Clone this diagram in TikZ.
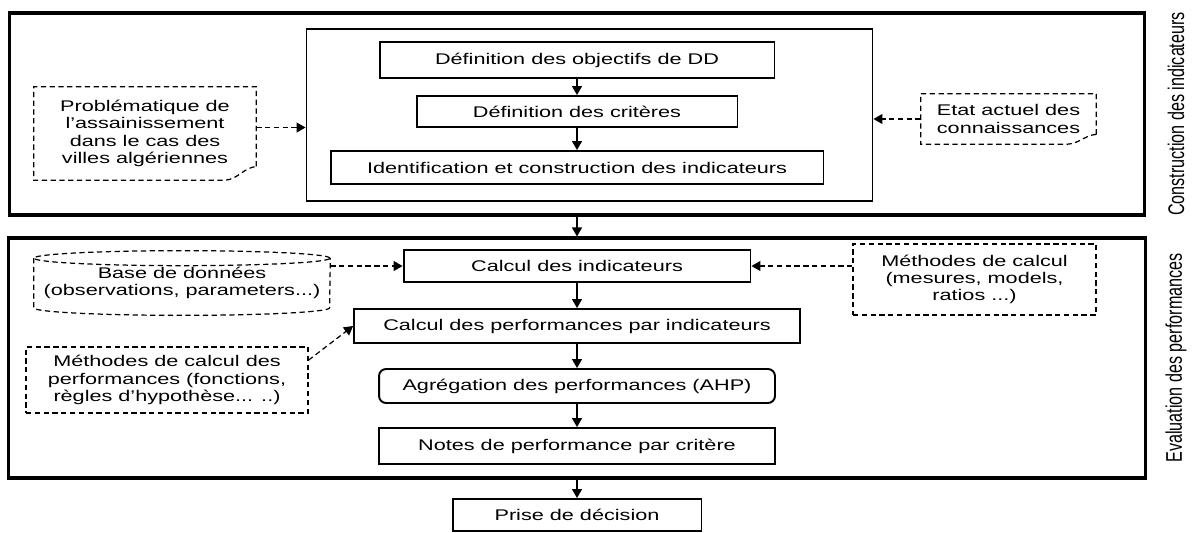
\documentclass[tikz,border=0pt]{standalone}
\usepackage{fontspec}
\setmainfont{Liberation Sans}[FakeStretch=1.4]
\newfontfamily\sidefont{Liberation Sans}
\usetikzlibrary{arrows.meta, calc}

\begin{document}
\begin{tikzpicture}[x=0.02cm, y=-0.02cm,
    every node/.style={font=\fontsize{8.8}{9.9}\selectfont, inner sep=0pt},
    bigbox/.style={draw, line width=1.8pt},
    stepbox/.style={draw, line width=1.1pt},
    noteline/.style={line width=0.7pt, dash pattern=on 3pt off 2pt},
    notebox/.style={draw, noteline, align=center},
    flow/.style={-{Triangle[length=1.8mm, width=2mm]}, line width=0.8pt},
    dflow/.style={flow, noteline},
    sidelabel/.style={rotate=90, font=\sidefont\fontsize{9.2}{11}\selectfont}]
    \useasboundingbox (0,0) rectangle (1195,532);

    % 外框
    \node[bigbox, minimum width=22.72cm, minimum height=4.04cm] (constr) at (577,114) {};
    \node[bigbox, minimum width=22.76cm, minimum height=4.8cm] (evalu) at (577,358) {};
    \node[sidelabel] (constrlabel) at (1176,114) {\scalebox{1}[1.4]{Construction des indicateurs}};
    \node[sidelabel] (evalulabel) at (1176,358) {\scalebox{1}[1.4]{Evaluation des performances}};

    % 构建指标
    \node[draw, line width=0.6pt, minimum width=11.34cm, minimum height=3.44cm] (inner) at (589.5,115) {};
    \node[stepbox, minimum width=7.9cm, minimum height=0.72cm] (objectifs) at (577,60) {Définition des objectifs de DD};
    \node[stepbox, minimum width=6.42cm, minimum height=0.62cm] (criteres) at (577,111.5) {Définition des critères};
    \node[stepbox, minimum width=9.86cm, minimum height=0.66cm] (ident) at (577,167.5) {Identification et construction des indicateurs};

    \node[align=center, minimum width=4.44cm, minimum height=1.86cm] (probleme) at (145,133.5)
        {Problématique de\\l'assainissement\\dans le cas des\\villes algériennes};
    \node[align=left, minimum width=3.5cm, minimum height=1cm] (etat) at (1008.5,119)
        {Etat actuel des\\connaissances};
    \draw[noteline] ($(probleme.south east)+(0,-14)$) -- (probleme.north east) -- (probleme.north west)
        -- (probleme.south west) -- ($(probleme.south east)+(-32,0)$)
        .. controls ($(probleme.south east)+(-18,-1)$) and ($(probleme.south east)+(-14,-12)$) .. ($(probleme.south east)+(0,-14)$);
    \draw[noteline] ($(etat.south east)+(0,-10)$) -- (etat.north east) -- (etat.north west)
        -- (etat.south west) -- ($(etat.south east)+(-30,0)$)
        .. controls ($(etat.south east)+(-16,-1)$) and ($(etat.south east)+(-12,-9)$) .. ($(etat.south east)+(0,-10)$);

    % 评价绩效
    \node[stepbox, minimum width=6.94cm, minimum height=0.64cm] (calcind) at (577,266) {Calcul des indicateurs};
    \node[stepbox, minimum width=8.92cm, minimum height=0.68cm] (calcperf) at (577,326) {Calcul des performances par indicateurs};
    \node[stepbox, rounded corners=4pt, minimum width=7.92cm, minimum height=0.68cm] (agreg) at (577,386) {Agrégation des performances (AHP)};
    \node[stepbox, minimum width=7.92cm, minimum height=0.72cm] (notes) at (577,446) {Notes de performance par critère};
    \node[stepbox, minimum width=4.98cm, minimum height=0.64cm] (prise) at (577,515) {Prise de décision};

    \node[align=center, minimum width=5.92cm, minimum height=1.28cm] (base) at (182,283)
        {Base de données\\(observations, parameters...)};
    \draw[noteline] ($(base.north)+(0,7.5)$) ellipse [x radius=2.96cm, y radius=0.15cm];
    \draw[noteline] ($(base.north west)+(0,7.5)$) -- ($(base.south west)+(0,-7.5)$)
        arc[start angle=180, end angle=360, x radius=2.96cm, y radius=0.15cm] -- ($(base.north east)+(0,7.5)$);
    \node[notebox, minimum width=5.64cm, minimum height=1.32cm] (methperf) at (167,380)
        {Méthodes de calcul des\\performances (fonctions,\\règles d'hypothèse... ..)};
    \node[notebox, minimum width=4.86cm, minimum height=1.42cm] (methcalc) at (974.5,279.5)
        {Méthodes de calcul\\(mesures, models,\\ratios ...)};

    % 箭头
    \draw[flow] (objectifs) -- (criteres);
    \draw[flow] (criteres) -- (ident);
    \draw[flow] (constr) -- (evalu);
    \draw[flow] (calcind) -- (calcperf);
    \draw[flow] (calcperf) -- (agreg);
    \draw[flow] (agreg) -- (notes);
    \draw[flow] (evalu) -- (prise);

    \draw[dflow] ([yshift=0.12cm]probleme.east) -- ([yshift=0.12cm]probleme.east -| inner.west);
    \draw[dflow] (etat.west) -- (etat.west -| inner.east);
    \draw[dflow] (base.east |- calcind.west) -- (calcind.west);
    \draw[dflow] (methcalc.west |- calcind.east) -- (calcind.east);
    \draw[dflow] (methperf.8) -- (calcperf.west);
\end{tikzpicture}
\end{document}
